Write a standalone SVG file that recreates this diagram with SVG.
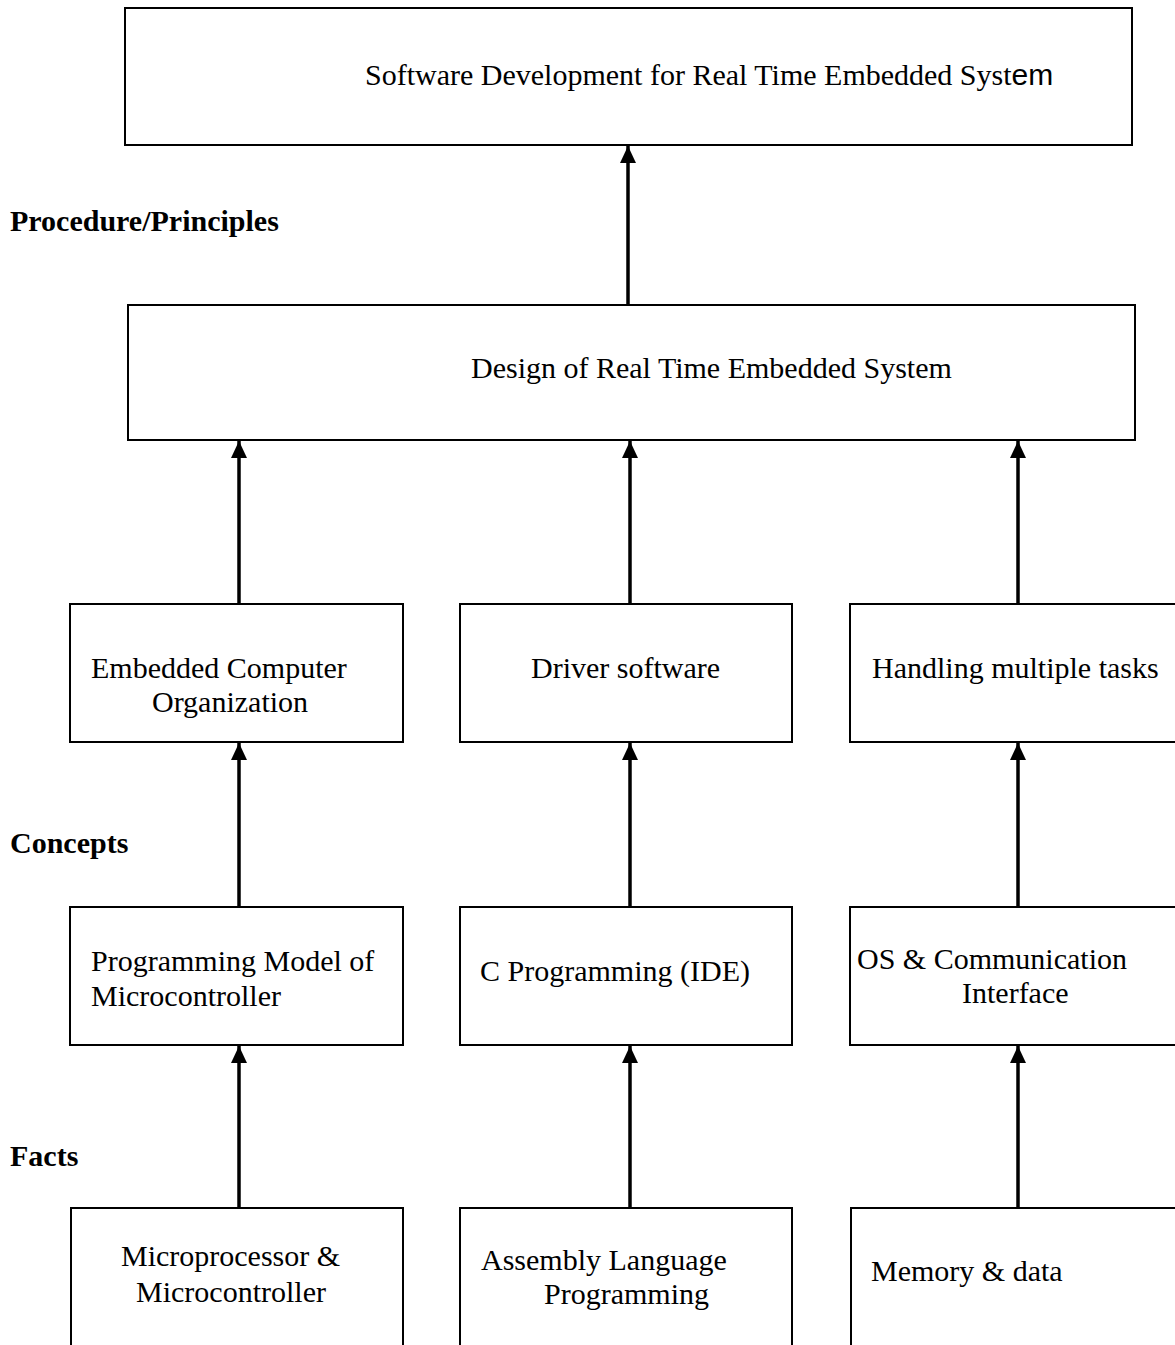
<svg xmlns="http://www.w3.org/2000/svg" width="1175" height="1345" viewBox="0 0 1175 1345">
<style>
.box{fill:#fff;stroke:#000;stroke-width:2}
.t{font-family:"Liberation Serif","Times New Roman",serif;font-size:30px;fill:#000}
.b{font-family:"Liberation Serif","Times New Roman",serif;font-size:30px;font-weight:bold;fill:#000}
.s{font-family:"Liberation Sans",Arial,sans-serif}
.arr{stroke:#000;stroke-width:3.5;fill:none;marker-end:url(#ah)}
</style>
<defs>
<marker id="ah" markerUnits="userSpaceOnUse" markerWidth="17" markerHeight="16" refX="17" refY="8" orient="auto" viewBox="0 0 17 16">
<path d="M0,0 L17,8 L0,16 Z" fill="#000"/>
</marker>
</defs>
<rect width="1175" height="1345" fill="#fff"/>
<g id="connectors">
<line class="arr" x1="628" y1="304" x2="628" y2="146"/>
<line class="arr" x1="239" y1="604" x2="239" y2="441"/>
<line class="arr" x1="630" y1="604" x2="630" y2="441"/>
<line class="arr" x1="1018" y1="604" x2="1018" y2="441"/>
<line class="arr" x1="239" y1="907" x2="239" y2="743"/>
<line class="arr" x1="630" y1="907" x2="630" y2="743"/>
<line class="arr" x1="1018" y1="907" x2="1018" y2="743"/>
<line class="arr" x1="239" y1="1208" x2="239" y2="1046"/>
<line class="arr" x1="630" y1="1208" x2="630" y2="1046"/>
<line class="arr" x1="1018" y1="1208" x2="1018" y2="1046"/>
</g>
<g id="labels">
<text class="b" x="10" y="231">Procedure/Principles</text>
<text class="b" x="10" y="853">Concepts</text>
<text class="b" x="10" y="1166">Facts</text>
</g>
<g id="node-software">
<rect class="box" x="125" y="8" width="1007" height="137"/>
<text class="t" x="365" y="85">Software Development for Real Time Embedded Syst<tspan class="s">em</tspan></text>
</g>
<g id="node-design">
<rect class="box" x="128" y="305" width="1007" height="135"/>
<text class="t" x="471" y="378">Design of Real Time Embedded System</text>
</g>
<g id="node-eco">
<rect class="box" x="70" y="604" width="333" height="138"/>
<text class="t" x="91" y="678">Embedded Computer</text>
<text class="t" x="152" y="712">Organization</text>
</g>
<g id="node-driver">
<rect class="box" x="460" y="604" width="332" height="138"/>
<text class="t" x="531" y="678">Driver software</text>
</g>
<g id="node-handling">
<rect class="box" x="850" y="604" width="340" height="138"/>
<text class="t" x="872" y="678">Handling multiple tasks</text>
</g>
<g id="node-pmm">
<rect class="box" x="70" y="907" width="333" height="138"/>
<text class="t" x="91" y="971">Programming Model of</text>
<text class="t" x="91" y="1006">Microcontroller</text>
</g>
<g id="node-cprog">
<rect class="box" x="460" y="907" width="332" height="138"/>
<text class="t" x="480" y="981">C Programming (IDE)</text>
</g>
<g id="node-os">
<rect class="box" x="850" y="907" width="340" height="138"/>
<text class="t" x="857" y="969">OS &amp; Communication</text>
<text class="t" x="962" y="1003">Interface</text>
</g>
<g id="node-micro">
<rect class="box" x="71" y="1208" width="332" height="150"/>
<text class="t" x="121" y="1266">Microprocessor &amp;</text>
<text class="t" x="136" y="1302">Microcontroller</text>
</g>
<g id="node-asm">
<rect class="box" x="460" y="1208" width="332" height="150"/>
<text class="t" x="481" y="1270">Assembly Language</text>
<text class="t" x="544" y="1304">Programming</text>
</g>
<g id="node-mem">
<rect class="box" x="851" y="1208" width="340" height="150"/>
<text class="t" x="871" y="1281">Memory &amp; data</text>
</g>
</svg>
